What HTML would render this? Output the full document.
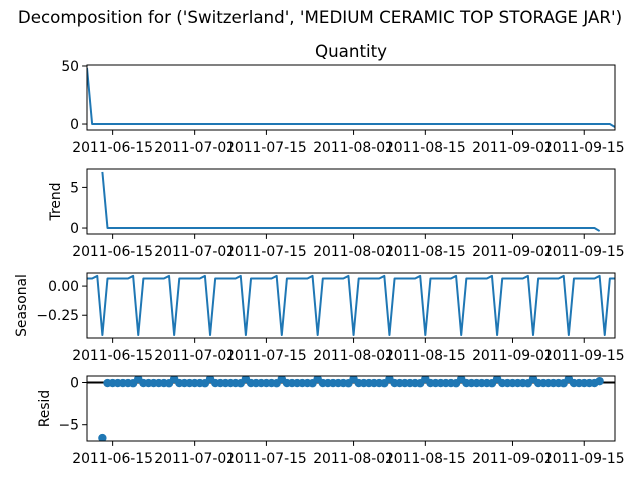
<!DOCTYPE html>
<html><head><meta charset="utf-8"><style>
body{margin:0;background:#fff;}
svg text{font-family:"DejaVu Sans","Liberation Sans",sans-serif;fill:#000;}
</style></head><body>
<svg id="chart" width="640" height="480" xmlns="http://www.w3.org/2000/svg">
<text x="320" y="23" text-anchor="middle" font-size="16.7">Decomposition for ('Switzerland', 'MEDIUM CERAMIC TOP STORAGE JAR')</text>
<text x="351" y="57" text-anchor="middle" font-size="16.7">Quantity</text>
</svg>
<script>
const startDate = "2011-06-10";
const tickDates = ["2011-06-15","2011-07-01","2011-07-15","2011-08-01","2011-08-15","2011-09-01","2011-09-15"];
const quantity = [48.3,0,0,0,0,0,0,0,0,0,0,0,0,0,0,0,0,0,0,0,0,0,0,0,0,0,0,0,0,0,0,0,0,0,0,0,0,0,0,0,0,0,0,0,0,0,0,0,0,0,0,0,0,0,0,0,0,0,0,0,0,0,0,0,0,0,0,0,0,0,0,0,0,0,0,0,0,0,0,0,0,0,0,0,0,0,0,0,0,0,0,0,0,0,0,0,0,0,0,0,0,0,0,-2.6];
const trend = [null,null,null,6.9,0,0,0,0,0,0,0,0,0,0,0,0,0,0,0,0,0,0,0,0,0,0,0,0,0,0,0,0,0,0,0,0,0,0,0,0,0,0,0,0,0,0,0,0,0,0,0,0,0,0,0,0,0,0,0,0,0,0,0,0,0,0,0,0,0,0,0,0,0,0,0,0,0,0,0,0,0,0,0,0,0,0,0,0,0,0,0,0,0,0,0,0,0,0,0,0,-0.37,null,null,null];
const seasonal = [
0.065,0.065,0.087,-0.42,0.065,0.065,0.065, 0.065,0.065,0.087,-0.42,0.065,0.065,0.065,
0.065,0.065,0.087,-0.42,0.065,0.065,0.065, 0.065,0.065,0.087,-0.42,0.065,0.065,0.065,
0.065,0.065,0.087,-0.42,0.065,0.065,0.065, 0.065,0.065,0.087,-0.42,0.065,0.065,0.065,
0.065,0.065,0.087,-0.42,0.065,0.065,0.065, 0.065,0.065,0.087,-0.42,0.065,0.065,0.065,
0.065,0.065,0.087,-0.42,0.065,0.065,0.065, 0.065,0.065,0.087,-0.42,0.065,0.065,0.065,
0.065,0.065,0.087,-0.42,0.065,0.065,0.065, 0.065,0.065,0.087,-0.42,0.065,0.065,0.065,
0.065,0.065,0.087,-0.42,0.065,0.065,0.065, 0.065,0.065,0.087,-0.42,0.065,0.065,0.065,
0.065,0.065,0.087,-0.42,0.065,0.065];
const resid = [null,null,null,-6.58,-0.065,-0.065,-0.065,
-0.065,-0.065,-0.087,0.42,-0.065,-0.065,-0.065, -0.065,-0.065,-0.087,0.42,-0.065,-0.065,-0.065,
-0.065,-0.065,-0.087,0.42,-0.065,-0.065,-0.065, -0.065,-0.065,-0.087,0.42,-0.065,-0.065,-0.065,
-0.065,-0.065,-0.087,0.42,-0.065,-0.065,-0.065, -0.065,-0.065,-0.087,0.42,-0.065,-0.065,-0.065,
-0.065,-0.065,-0.087,0.42,-0.065,-0.065,-0.065, -0.065,-0.065,-0.087,0.42,-0.065,-0.065,-0.065,
-0.065,-0.065,-0.087,0.42,-0.065,-0.065,-0.065, -0.065,-0.065,-0.087,0.42,-0.065,-0.065,-0.065,
-0.065,-0.065,-0.087,0.42,-0.065,-0.065,-0.065, -0.065,-0.065,-0.087,0.42,-0.065,-0.065,-0.065,
-0.065,-0.065,-0.087,0.42,-0.065,-0.065,-0.065,
-0.065,-0.065,0.16,null,null,null];
const quantityTicks = [0,50];
const trendTicks = [0,5];
const seasonalTicks = [0,-0.25];
const seasonalTickLabels = ["0.00","\u22120.25"];
const residTicks = [0,-5];
const residTickLabels = ["0","\u22125"];

const NS="http://www.w3.org/2000/svg";
const svg=document.getElementById('chart');
const L=87,R=615,C='#1f77b4';
const t0=Date.parse(startDate+"T00:00:00Z");
const nDays=quantity.length-1;
function xScale(day){return L+day*(R-L)/nDays;}
function dayOf(s){return (Date.parse(s+"T00:00:00Z")-t0)/86400000;}
function mk(tag,attrs,parent){const e=document.createElementNS(NS,tag);for(const k in attrs)e.setAttribute(k,attrs[k]);(parent||svg).appendChild(e);return e;}

function panel(name,top,bot,data,ticks,labels,ylabel,markers){
  const g=mk('g',{});
  
  
  const vals=data.filter(v=>v!==null);
  let mn=Math.min(...vals),mx=Math.max(...vals);
  if(markers){mn=Math.min(mn,0);mx=Math.max(mx,0);}
  const pad=(mx-mn)*0.05;const y0=mn-pad,y1=mx+pad;
  const yS=v=>bot-(v-y0)/(y1-y0)*(bot-top);
  const cid='clip-'+name;
  const cp=mk('clipPath',{id:cid},g);mk('rect',{x:L,y:top,width:R-L,height:bot-top},cp);
  if(markers){
    const hl=mk('line',{x1:L,x2:R,y1:yS(0),y2:yS(0),stroke:'#000','stroke-width':2},g);
    
    
    data.forEach((v,i)=>{if(v===null)return;
      const c=mk('circle',{cx:xScale(i),cy:yS(v),r:4.2,fill:C,'clip-path':'url(#'+cid+')'},g);
      
      
    });
  } else {
    let d='';let pen=false;
    data.forEach((v,i)=>{if(v===null){pen=false;return;}d+=(pen?'L':'M')+xScale(i).toFixed(2)+','+yS(v).toFixed(2);pen=true;});
    const p=mk('path',{d:d,fill:'none',stroke:C,'stroke-width':2,'stroke-linejoin':'round','clip-path':'url(#'+cid+')'},g);
    
    
  }
  const fr=mk('rect',{x:L,y:top,width:R-L,height:bot-top,fill:'none',stroke:'#000','stroke-width':1},g);
  
  
  ticks.forEach((t,i)=>{const y=yS(t);
    mk('line',{x1:L-4.9,x2:L,y1:y,y2:y,stroke:'#000','stroke-width':1},g);
    const tx=mk('text',{x:L-8,y:y+5,'text-anchor':'end','font-size':13.9},g);
    tx.textContent=labels?labels[i]:String(t);
    
    
  });
  tickDates.forEach(s=>{const x=xScale(dayOf(s));
    mk('line',{x1:x,x2:x,y1:bot,y2:bot+4.9,stroke:'#000','stroke-width':1},g);
    const tx=mk('text',{x:x,y:bot+22,'text-anchor':'middle','font-size':13.9},g);
    tx.textContent=s;
    
    
  });
  if(ylabel){const cy=(top+bot)/2;
    const tx=mk('text',{x:0,y:0,'text-anchor':'middle','font-size':13.9,transform:'translate('+(ylabel[1])+','+cy+') rotate(-90)'},g);
    tx.textContent=ylabel[0];
    
    
  }
}
panel('quantity',65,130,quantity,quantityTicks,null,null,false);
panel('trend',169,234,trend,trendTicks,null,['Trend',60],false);
panel('seasonal',273,338,seasonal,seasonalTicks,seasonalTickLabels,['Seasonal',26],false);
panel('resid',376,441,resid,residTicks,residTickLabels,['Resid',49],true);
</script>
</body></html>
